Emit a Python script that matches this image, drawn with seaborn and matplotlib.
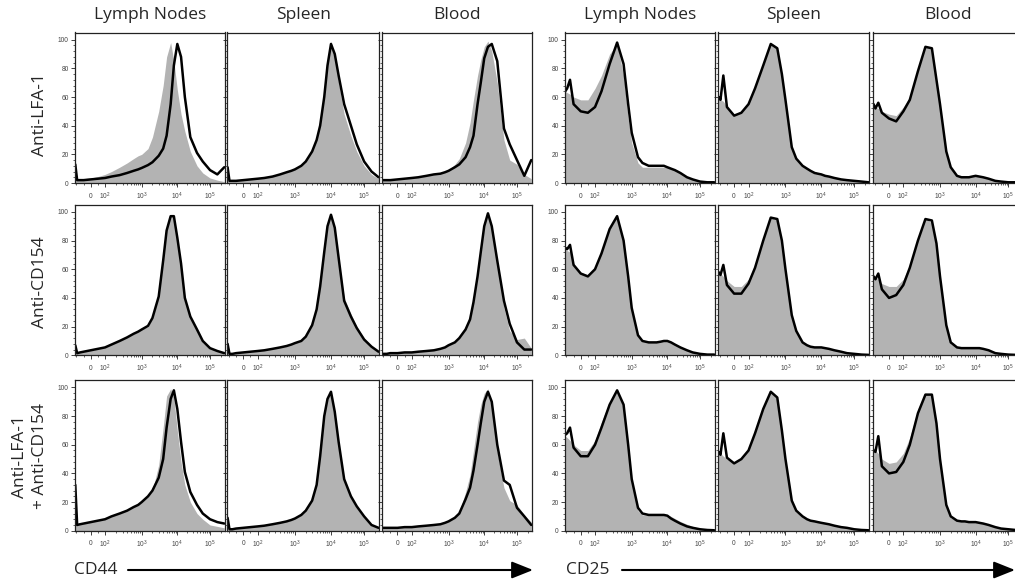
import numpy as np
import matplotlib
matplotlib.use("Agg")
import matplotlib.pyplot as plt
import seaborn as sns
from matplotlib.patches import FancyArrowPatch

# ---------------- data ----------------
FLUOR = [-108, -95, -75, -50, 0, 50, 100, 150, 250, 400, 600, 800, 1000, 1500, 2000,
         3000, 4000, 5000, 6500, 8000, 10000, 13000, 17000, 25000, 40000, 60000,
         100000, 160000, 250000]

TISSUES = ["Lymph Nodes", "Spleen", "Blood"]
TREATMENTS = ["Anti-LFA-1", "Anti-CD154", "Anti-LFA-1\n+ Anti-CD154"]
MARKERS = ["CD44", "CD25"]
X_TICKS = [0, 100, 1000, 10000, 100000]
X_TICK_LABELS = [r"$0^{\,}$", "$10^2$", "$10^3$", "$10^4$", "$10^5$"]
Y_TICKS = [0, 20, 40, 60, 80, 100]

# CD44, row 1 (Anti-LFA-1)
CD44_LN_LFA_GRAY = [3, 3, 3, 3, 3.5, 4.5, 6, 8, 11, 14, 17, 19, 20, 24, 32, 50, 68, 88, 98, 85, 65, 48, 36, 22, 12, 7, 3.5, 2, 1]
CD44_LN_LFA_LINE = [13, 2, 2, 2, 2.5, 3, 3.5, 4.5, 5.5, 7, 8.5, 9.5, 10.5, 12.5, 14.5, 19, 24, 33, 55, 82, 97, 88, 60, 32, 21, 15, 9, 6, 11]
CD44_SP_LFA_GRAY = [2, 2, 2, 2, 2.5, 3, 3.5, 4, 5, 6, 7.5, 8.5, 9.5, 12, 15, 23, 31, 42, 62, 85, 99, 88, 70, 48, 33, 22, 12, 6, 3]
CD44_SP_LFA_LINE = [11, 1.5, 1.5, 1.5, 2, 2.5, 3, 3.5, 4.5, 6, 7.5, 8.5, 9.5, 12, 15, 22, 30, 40, 60, 82, 97, 90, 75, 55, 40, 27, 15, 8, 4]
CD44_BL_LFA_GRAY = [2, 2, 2, 2, 2.5, 3, 3.5, 4, 5, 6, 7, 8, 9, 13, 17, 28, 42, 58, 75, 86, 95, 99, 92, 70, 30, 16, 13, 6, 3]
CD44_BL_LFA_LINE = [2, 2, 2, 2, 2.5, 3, 3.5, 4, 5, 6, 6.5, 7.5, 8.5, 11, 13, 18, 25, 33, 55, 70, 87, 95, 97, 85, 38, 27, 16, 5, 16]
# CD44, row 2 (Anti-CD154)
CD44_LN_154_GRAY = [1.5, 1.5, 2, 2.5, 3.5, 4.5, 5.5, 7.5, 10, 12.5, 15, 16.5, 18, 20, 26, 42, 68, 88, 98, 96, 80, 62, 38, 26, 17, 9, 5, 3, 1]
CD44_LN_154_LINE = [7, 1.5, 2, 2.5, 3.5, 4.5, 5.5, 7.5, 10, 12.5, 15, 16.5, 18, 20.5, 26, 41, 66, 87, 97, 97, 82, 64, 40, 27, 18, 10, 5, 3, 1.5]
CD44_SP_154_GRAY = [1, 1, 1, 1.5, 2, 2.5, 3, 3.5, 4.5, 5.5, 6.5, 7.5, 8.5, 10, 13, 21, 32, 48, 72, 90, 99, 89, 68, 40, 29, 20, 12, 6, 2.5]
CD44_SP_154_LINE = [8, 1, 1, 1.5, 2, 2.5, 3, 3.5, 4.5, 5.5, 6.5, 7.5, 8.5, 10, 13, 21, 32, 48, 72, 90, 98, 89, 68, 38, 27, 19, 11, 6, 2.5]
CD44_BL_154_GRAY = [1, 1, 1, 1.5, 1.5, 2, 2, 2.5, 3, 3.5, 4.5, 5.5, 7, 9, 12, 18, 25, 37, 55, 72, 90, 99, 90, 64, 33, 17, 11, 12, 5]
CD44_BL_154_LINE = [1, 1, 1, 1.5, 1.5, 2, 2, 2.5, 3, 3.5, 4.5, 5.5, 7, 9, 12, 18, 25, 37, 55, 72, 90, 99, 90, 66, 38, 22, 9, 4, 4]
# CD44, row 3 (Anti-LFA-1 + Anti-CD154)
CD44_LN_CMB_GRAY = [5, 4, 4.5, 5, 6, 7, 8, 10, 12, 14, 16.5, 18, 20, 24, 28, 46, 72, 94, 99, 93, 70, 48, 32, 20, 12, 8, 4, 3, 2]
CD44_LN_CMB_LINE = [32, 4, 4.5, 5, 6, 7, 8, 10, 12, 14, 16.5, 18, 20, 24, 28, 37, 50, 72, 92, 98, 85, 62, 41, 27, 18, 12, 8, 6, 5]
CD44_SP_CMB_GRAY = [1, 1, 1, 1.5, 2, 2.5, 3, 3.5, 4.5, 5.5, 6.5, 7.5, 8.5, 11, 14, 22, 34, 55, 82, 94, 97, 82, 60, 35, 23, 16, 9, 4, 2]
CD44_SP_CMB_LINE = [9, 1, 1, 1.5, 2, 2.5, 3, 3.5, 4.5, 5.5, 6.5, 7.5, 8.5, 11, 14, 21, 32, 52, 80, 92, 97, 83, 62, 36, 24, 17, 10, 4, 2]
CD44_BL_CMB_GRAY = [2, 2, 2, 2, 2, 2.5, 2.5, 3, 3.5, 4, 4.5, 5.5, 6.5, 9, 13, 27, 39, 56, 76, 88, 96, 99, 88, 55, 30, 21, 18, 11, 6]
CD44_BL_CMB_LINE = [2, 2, 2, 2, 2, 2.5, 2.5, 3, 3.5, 4, 4.5, 5.5, 6.5, 9, 12, 22, 30, 42, 60, 75, 90, 97, 90, 60, 35, 32, 16, 10, 4]

# CD25, row 1
CD25_LN_LFA_GRAY = [64, 63, 62, 60, 58, 58, 66, 75, 90, 97, 75, 45, 28, 14, 11, 11, 11, 11, 11, 11, 11, 10, 9, 7, 4.5, 3, 1.5, 1, 0.5]
CD25_LN_LFA_LINE = [64, 66, 72, 55, 50, 49, 53, 64, 83, 98, 83, 55, 35, 18, 14, 12, 12, 12, 12, 12, 11, 10, 9, 7, 4, 2.5, 1, 0.5, 0.5]
CD25_SP_LFA_GRAY = [60, 58, 57, 53, 48, 50, 56, 67, 83, 97, 94, 75, 56, 25, 17, 12, 10, 9, 8, 7, 6.5, 6, 5, 4, 3, 2.5, 2, 1, 0.5]
CD25_SP_LFA_LINE = [60, 58, 75, 53, 47, 49, 55, 66, 82, 97, 94, 76, 58, 25, 17, 12, 10, 8.5, 7, 6.5, 6, 5, 4.5, 3.5, 2.5, 2, 1.5, 1, 0.5]
CD25_BL_LFA_GRAY = [55, 53, 52, 50, 48, 47, 53, 60, 80, 96, 93, 72, 55, 22, 10, 5, 4.5, 4.5, 4.5, 5, 5.5, 5, 4.5, 3.5, 2, 1.5, 1, 0.5, 0.5]
CD25_BL_LFA_LINE = [55, 52, 56, 49, 45, 43, 50, 58, 78, 95, 94, 72, 55, 22, 11, 5, 4, 4, 4, 4.5, 5, 4.5, 4, 3, 1.5, 1, 0.5, 0.5, 0.5]
# CD25, row 2
CD25_LN_154_GRAY = [74, 73, 72, 64, 58, 56, 61, 72, 88, 97, 79, 53, 31, 13, 10, 9, 9, 9, 9.5, 10, 10, 9, 7.5, 5.5, 3.5, 2, 1, 0.5, 0.5]
CD25_LN_154_LINE = [75, 74, 77, 63, 57, 55, 60, 71, 88, 97, 80, 55, 33, 14, 10, 9, 9, 9, 9.5, 10, 10, 9, 7.5, 5.5, 3.5, 2, 1, 0.5, 0.5]
CD25_SP_154_GRAY = [58, 57, 55, 52, 48, 48, 53, 63, 81, 96, 94, 79, 58, 27, 16, 9, 7, 6, 6, 6, 5.5, 5.5, 5, 4, 3, 2, 1, 0.5, 0.3]
CD25_SP_154_LINE = [58, 56, 63, 49, 43, 43, 50, 61, 80, 96, 95, 80, 60, 28, 17, 9, 7, 6, 5.5, 5.5, 5.5, 5, 4.5, 3.5, 2.5, 1.5, 1, 0.5, 0.3]
CD25_BL_154_GRAY = [56, 55, 53, 50, 48, 48, 53, 63, 82, 96, 92, 74, 50, 19, 8, 5.5, 5, 5, 5, 5, 5, 5, 5, 4, 2, 1, 0.5, 0.3, 0.3]
CD25_BL_154_LINE = [55, 53, 57, 46, 40, 42, 49, 61, 80, 95, 94, 78, 55, 21, 9, 5.5, 5, 5, 5, 5, 5, 5, 4.5, 3.5, 1.5, 1, 0.5, 0.3, 0.3]
# CD25, row 3
CD25_LN_CMB_GRAY = [66, 65, 63, 60, 56, 56, 63, 76, 90, 97, 86, 57, 33, 14, 11, 11, 11, 11, 11, 11, 11, 10, 8.5, 6.5, 4.5, 3, 1.5, 1, 0.5]
CD25_LN_CMB_LINE = [67, 68, 72, 58, 52, 52, 60, 72, 88, 98, 88, 60, 36, 16, 12, 11, 11, 11, 11, 11, 10.5, 8.5, 7, 5, 3, 2, 1, 0.5, 0.3]
CD25_SP_CMB_GRAY = [55, 54, 52, 50, 48, 51, 57, 69, 86, 97, 92, 68, 48, 20, 13, 10, 8, 7.5, 7, 6.5, 6, 5.5, 5, 4, 3, 2, 1, 0.5, 0.3]
CD25_SP_CMB_LINE = [55, 53, 68, 51, 47, 50, 56, 68, 85, 97, 93, 70, 50, 21, 14, 10, 8, 7, 6.5, 6, 5.5, 5, 4.5, 3.5, 2.5, 2, 1, 0.5, 0.3]
CD25_BL_CMB_GRAY = [58, 56, 54, 50, 47, 48, 54, 65, 85, 96, 94, 72, 47, 16, 9, 7, 7, 7, 6.5, 6.5, 6.5, 6, 5.5, 4.5, 3, 2, 1, 0.5, 0.3]
CD25_BL_CMB_LINE = [56, 55, 66, 45, 40, 41, 48, 60, 82, 95, 95, 75, 50, 18, 10, 7, 6.5, 6.5, 6, 6, 6, 5.5, 5, 4, 2.5, 1.5, 1, 0.5, 0.3]

PANELS = [
    [(CD44_LN_LFA_GRAY, CD44_LN_LFA_LINE), (CD44_SP_LFA_GRAY, CD44_SP_LFA_LINE), (CD44_BL_LFA_GRAY, CD44_BL_LFA_LINE),
     (CD25_LN_LFA_GRAY, CD25_LN_LFA_LINE), (CD25_SP_LFA_GRAY, CD25_SP_LFA_LINE), (CD25_BL_LFA_GRAY, CD25_BL_LFA_LINE)],
    [(CD44_LN_154_GRAY, CD44_LN_154_LINE), (CD44_SP_154_GRAY, CD44_SP_154_LINE), (CD44_BL_154_GRAY, CD44_BL_154_LINE),
     (CD25_LN_154_GRAY, CD25_LN_154_LINE), (CD25_SP_154_GRAY, CD25_SP_154_LINE), (CD25_BL_154_GRAY, CD25_BL_154_LINE)],
    [(CD44_LN_CMB_GRAY, CD44_LN_CMB_LINE), (CD44_SP_CMB_GRAY, CD44_SP_CMB_LINE), (CD44_BL_CMB_GRAY, CD44_BL_CMB_LINE),
     (CD25_LN_CMB_GRAY, CD25_LN_CMB_LINE), (CD25_SP_CMB_GRAY, CD25_SP_CMB_LINE), (CD25_BL_CMB_GRAY, CD25_BL_CMB_LINE)],
]

# ---------------- biexponential-like axis scale ----------------
_LOG_DEC = [2, 3, 4, 5, 6]
_LOG_POS = [30.0, 66.7, 102.3, 135.0, 170.8]


def biex_forward(x):
    x = np.asarray(x, dtype=float)
    lin = 15.7 + 0.143 * x
    lg = np.interp(np.log10(np.maximum(x, 100.0)), _LOG_DEC, _LOG_POS)
    return np.where(x < 100, lin, lg)


def biex_inverse(p):
    p = np.asarray(p, dtype=float)
    lin = (p - 15.7) / 0.143
    lg = 10 ** np.interp(np.maximum(p, 30.0), _LOG_POS, _LOG_DEC)
    return np.where(p < 30, lin, lg)


MINOR_X = [-100, -50, 50, 200, 300, 400, 500, 600, 700, 800, 900,
           2000, 3000, 4000, 5000, 6000, 7000, 8000, 9000,
           20000, 30000, 40000, 50000, 60000, 70000, 80000, 90000, 200000]

# ---------------- figure ----------------
sns.set_style("ticks")
plt.rcParams["font.family"] = ["Open Sans", "DejaVu Sans"]
plt.rcParams["mathtext.default"] = "regular"

W, H = 1015, 581
fig = plt.figure(figsize=(W / 100, H / 100), dpi=100)

COLS = [(75, 225), (227.3, 379.3), (381.7, 532), (565, 715), (718.3, 869.3), (873.3, 1023.3)]
ROWS = [(32.5, 183), (204.7, 355.3), (380.3, 530.7)]
GRAY = "#b3b3b3"
TICK_FONT = ["Liberation Sans", "DejaVu Sans"]

for r in range(3):
    for c in range(6):
        l, rr = COLS[c]
        t, b = ROWS[r]
        ax = fig.add_axes([l / W, 1 - b / H, (rr - l) / W, (b - t) / H])
        gray, line = PANELS[r][c]
        ax.fill_between(FLUOR, 0, gray, color=GRAY, lw=0)
        sns.lineplot(x=FLUOR, y=line, ax=ax, color="black", lw=1.8, sort=False, estimator=None)
        ax.set_xscale("function", functions=(biex_forward, biex_inverse))
        ax.set_xlim(-110, 262144)
        ax.set_ylim(0, 105)
        ax.set_xlabel("")
        ax.set_ylabel("")
        ax.set_xticks(X_TICKS, labels=X_TICK_LABELS)
        ax.set_xticks(MINOR_X, minor=True)
        ax.set_yticks(Y_TICKS)
        ax.set_yticks(np.arange(4, 104, 4), minor=True)
        ax.tick_params(axis="both", which="major", direction="out", length=3, width=0.6,
                       labelsize=4.8, pad=1.5, colors="#222222")
        ax.tick_params(axis="x", which="major", pad=2.5)
        ax.tick_params(axis="both", which="minor", direction="out", length=1.6, width=0.5,
                       colors="#222222")
        for lab in ax.get_xticklabels() + ax.get_yticklabels():
            lab.set_family(TICK_FONT)
            lab.set_color("#444444")
        if c not in (0, 3):
            ax.tick_params(axis="y", labelleft=False)
        for sp in ax.spines.values():
            sp.set_visible(True)
            sp.set_linewidth(0.9)
            sp.set_color("#222222")

# column titles
for c in range(6):
    l, rr = COLS[c]
    fig.text((l + rr) / 2 / W, 1 - 15 / H, TISSUES[c % 3], ha="center", va="center", fontsize=12.5)

# row labels
fig.text(40 / W, 1 - 114 / H, TREATMENTS[0], rotation=90, ha="center", va="center", fontsize=12.5)
fig.text(40 / W, 1 - 282 / H, TREATMENTS[1], rotation=90, ha="center", va="center", fontsize=12.5)
fig.text(30 / W, 1 - 456 / H, TREATMENTS[2], rotation=90, ha="center", va="center", fontsize=12.5,
         multialignment="center", linespacing=1.25)

# marker labels with arrows
ARROWS = [(96, 128, 533), (588, 622, 1015)]
for name, (tx, x0, x1) in zip(MARKERS, ARROWS):
    fig.text(tx / W, 1 - 570 / H, name, ha="center", va="center", fontsize=12.5)
    arr = FancyArrowPatch((x0 / W, 1 - 570 / H), (x1 / W, 1 - 570 / H), transform=fig.transFigure,
                          arrowstyle="-|>,head_length=0.65,head_width=0.26", mutation_scale=20,
                          lw=1.5, color="black", shrinkA=0, shrinkB=0)
    fig.add_artist(arr)

fig.savefig("out.png", dpi=100)
